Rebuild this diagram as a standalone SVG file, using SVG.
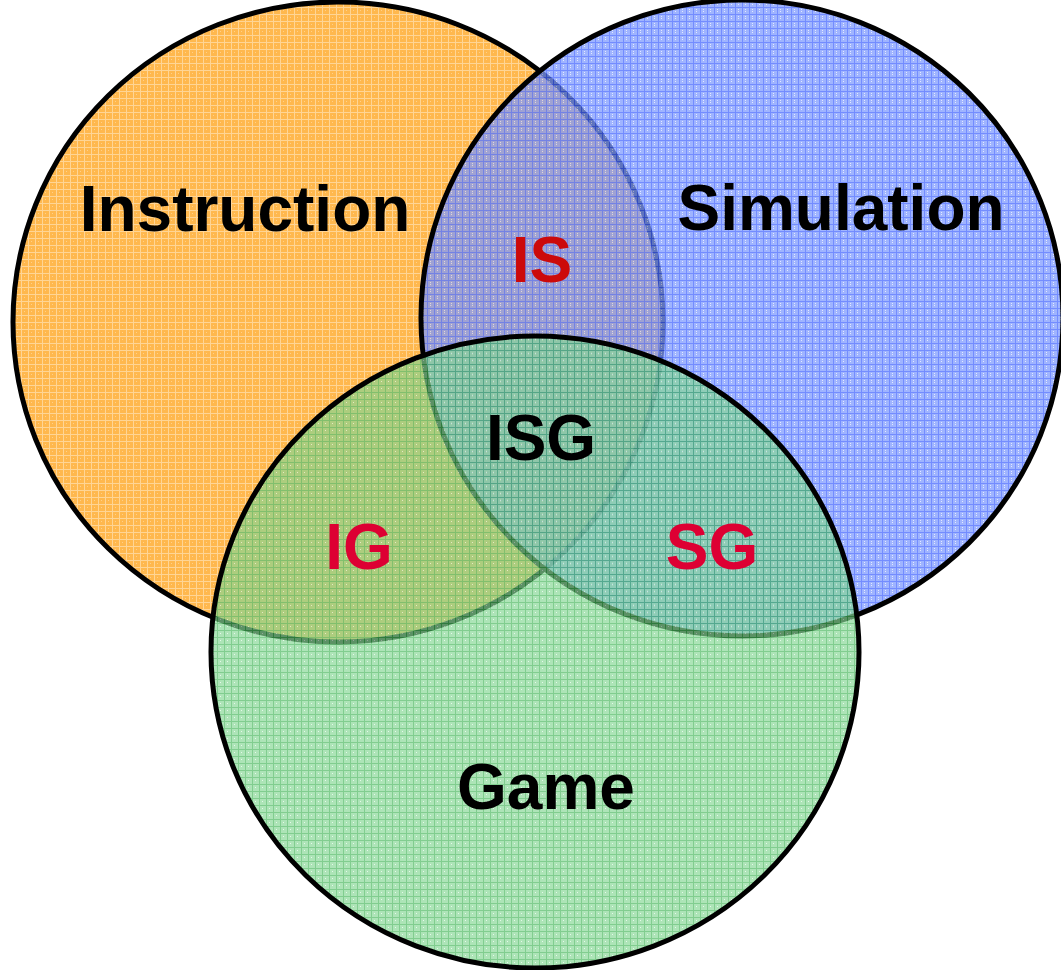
<svg xmlns="http://www.w3.org/2000/svg" width="1061" height="970" viewBox="0 0 1061 970">
<style>
.c{stroke:#000;stroke-width:5}
.lbl{font-family:"Liberation Sans",Arial,sans-serif;font-weight:bold;font-size:64px;text-anchor:middle}
.blk{fill:#000}
.red{fill:#DD0033}
</style>
<defs>
<pattern id="pO" width="7" height="7" patternUnits="userSpaceOnUse">
<rect width="7" height="7" fill="#FFB84E"/>
<path d="M0 0.5H7M0.5 0V7" stroke="#FFD595" stroke-width="1"/>
<rect x="3" y="3" width="1" height="1" fill="#FFD08A"/>
</pattern>
<pattern id="pB" width="7" height="7" patternUnits="userSpaceOnUse">
<rect width="7" height="7" fill="#7F9BFF"/>
<path d="M0 0.5H7M0.5 0V7" stroke="#4466FF" stroke-width="1"/>
<rect x="3" y="2" width="1" height="1" fill="#D8E0FF"/>
<rect x="3" y="4" width="1" height="1" fill="#D8E0FF"/>
</pattern>
<pattern id="pG" width="7" height="7" patternUnits="userSpaceOnUse">
<rect width="7" height="7" fill="#86D795"/>
<path d="M0 0.5H7M0.5 0V7" stroke="#45B55A" stroke-width="1"/>
<rect x="3" y="3" width="1" height="1" fill="#D8F5DE"/>
</pattern>
</defs>
<g id="instruction">
<ellipse class="c" cx="338" cy="322" rx="325" ry="320" fill="url(#pO)"/>
</g>
<g id="simulation">
<ellipse class="c" cx="742" cy="318" rx="321" ry="318" fill="url(#pB)" fill-opacity="0.75"/>
</g>
<g id="game">
<ellipse class="c" cx="535" cy="652" rx="324" ry="316" fill="url(#pG)" fill-opacity="0.68"/>
</g>
<g id="labels">
<text class="lbl blk" x="245" y="231">Instruction</text>
<text class="lbl blk" x="841" y="230">Simulation</text>
<text class="lbl blk" x="546" y="809">Game</text>
<text class="lbl blk" x="541" y="460">ISG</text>
<text class="lbl" x="542" y="282" fill="#CC0A0A">IS</text>
<text class="lbl red" x="359" y="569">IG</text>
<text class="lbl red" x="712" y="569">SG</text>
</g>
</svg>
